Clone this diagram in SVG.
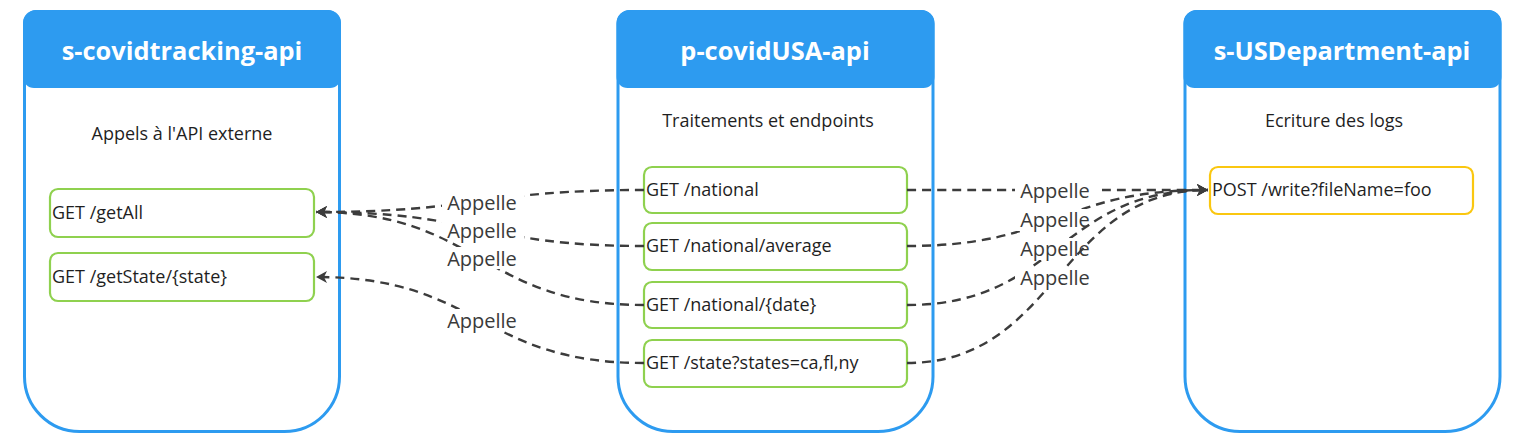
<svg xmlns="http://www.w3.org/2000/svg" width="1532" height="443" viewBox="0 0 1532 443">
<style>
.cont{fill:#ffffff;stroke:#2d9bf0;stroke-width:3}
.hdr{fill:#2d9bf0}
.title{font-family:"Open Sans",sans-serif;font-weight:700;font-size:25.4px;fill:#ffffff;text-anchor:middle}
.sub{font-family:"Open Sans",sans-serif;font-size:18px;fill:#1f1f1f;text-anchor:middle}
.ep{fill:#ffffff;stroke:#8fd14f;stroke-width:2.2}
.ep2{fill:#ffffff;stroke:#fac710;stroke-width:2.2}
.ept{font-family:"Open Sans",sans-serif;font-size:18px;fill:#1f1f1f}
.con{fill:none;stroke:#3c3c3c;stroke-width:2.4;stroke-dasharray:9 6}
.lbg{fill:#ffffff}
.lbl{font-family:"Open Sans",sans-serif;font-size:20px;fill:#3a3a3a;text-anchor:middle}
</style>
<defs>
<marker id="arr" markerUnits="userSpaceOnUse" markerWidth="14" markerHeight="14" refX="11" refY="6" orient="auto">
<path d="M0,0 L11,6 L0,12 L3,6 z" fill="#3c3c3c"/>
</marker>
</defs>
<rect width="1532" height="443" fill="#ffffff"/>

<g id="s-covidtracking-api">
<path class="cont" d="M37,11.5 H327 A12.5,12.5 0 0 1 339.5,24 V376 A55,55 0 0 1 284.5,431.5 H79.5 A55,55 0 0 1 24.5,376.5 V24 A12.5,12.5 0 0 1 37,11.5 Z"/>
<path class="hdr" d="M36,10 H328 A13,13 0 0 1 341,23 V77 A11,11 0 0 1 330,88 H34 A11,11 0 0 1 23,77 V23 A13,13 0 0 1 36,10 Z"/>
<text class="title" x="182" y="60">s-covidtracking-api</text>
<text class="sub" x="182" y="140">Appels à l'API externe</text>
<g id="getAll"><rect class="ep" x="50" y="189" width="264" height="48" rx="8"/><text class="ept" x="52" y="219">GET /getAll</text></g>
<g id="getState"><rect class="ep" x="50" y="253" width="264" height="48" rx="8"/><text class="ept" x="52" y="283">GET /getState/{state}</text></g>
</g>

<g id="p-covidUSA-api">
<path class="cont" d="M630.5,11.5 H920.5 A12.5,12.5 0 0 1 933,24 V376 A55,55 0 0 1 878,431.5 H673 A55,55 0 0 1 618,376.5 V24 A12.5,12.5 0 0 1 630.5,11.5 Z"/>
<path class="hdr" d="M629.5,10 H921.5 A13,13 0 0 1 934.5,23 V77 A11,11 0 0 1 923.5,88 H627.5 A11,11 0 0 1 616.5,77 V23 A13,13 0 0 1 629.5,10 Z"/>
<text class="title" x="775" y="60">p-covidUSA-api</text>
<text class="sub" x="768" y="127">Traitements et endpoints</text>
<g id="national"><rect class="ep" x="644" y="167" width="263" height="46" rx="8"/><text class="ept" x="646" y="196">GET /national</text></g>
<g id="average"><rect class="ep" x="644" y="223" width="263" height="47" rx="8"/><text class="ept" x="646" y="252">GET /national/average</text></g>
<g id="date"><rect class="ep" x="644" y="282" width="263" height="46" rx="8"/><text class="ept" x="646" y="311">GET /national/{date}</text></g>
<g id="state"><rect class="ep" x="644" y="340" width="263" height="47" rx="8"/><text class="ept" x="646" y="369">GET /state?states=ca,fl,ny</text></g>
</g>

<g id="s-USDepartment-api">
<path class="cont" d="M1197.5,11.5 H1487.5 A12.5,12.5 0 0 1 1500,24 V376 A55,55 0 0 1 1445,431.5 H1240 A55,55 0 0 1 1185,376.5 V24 A12.5,12.5 0 0 1 1197.5,11.5 Z"/>
<path class="hdr" d="M1196.5,10 H1488.5 A13,13 0 0 1 1501.5,23 V77 A11,11 0 0 1 1490.5,88 H1194.5 A11,11 0 0 1 1183.5,77 V23 A13,13 0 0 1 1196.5,10 Z"/>
<text class="title" x="1342" y="60">s-USDepartment-api</text>
<text class="sub" x="1334" y="127">Ecriture des logs</text>
<g id="write"><rect class="ep2" x="1210" y="167" width="263" height="47" rx="8"/><text class="ept" x="1212" y="196">POST /write?fileName=foo</text></g>
</g>

<g id="connectors">
<path class="con" d="M644,190 C480,190 480,212 316,212" marker-end="url(#arr)"/>
<rect class="lbg" x="442" y="191" width="82" height="22"/><text class="lbl" x="482" y="210">Appelle</text>
<path class="con" d="M644,246 C480,246 480,212 316,212" marker-end="url(#arr)"/>
<rect class="lbg" x="442" y="219" width="82" height="22"/><text class="lbl" x="482" y="238">Appelle</text>
<path class="con" d="M644,305 C480,305 480,212 316,212" marker-end="url(#arr)"/>
<rect class="lbg" x="442" y="247" width="82" height="22"/><text class="lbl" x="482" y="266">Appelle</text>
<path class="con" d="M644,363 C480,363 480,277 316,277" marker-end="url(#arr)"/>
<rect class="lbg" x="442" y="309" width="82" height="22"/><text class="lbl" x="482" y="328">Appelle</text>

<path class="con" d="M907,190 C1058,190 1058,190 1208,190" marker-end="url(#arr)"/>
<rect class="lbg" x="1015" y="180" width="82" height="22"/><text class="lbl" x="1055" y="198">Appelle</text>
<path class="con" d="M907,246 C1058,246 1058,190 1208,190" marker-end="url(#arr)"/>
<rect class="lbg" x="1015" y="209" width="82" height="22"/><text class="lbl" x="1055" y="227">Appelle</text>
<path class="con" d="M907,305 C1058,305 1058,190 1208,190" marker-end="url(#arr)"/>
<rect class="lbg" x="1015" y="238" width="82" height="22"/><text class="lbl" x="1055" y="256">Appelle</text>
<path class="con" d="M907,363 C1058,363 1058,190 1208,190" marker-end="url(#arr)"/>
<rect class="lbg" x="1015" y="267" width="82" height="22"/><text class="lbl" x="1055" y="285">Appelle</text>
</g>
</svg>
